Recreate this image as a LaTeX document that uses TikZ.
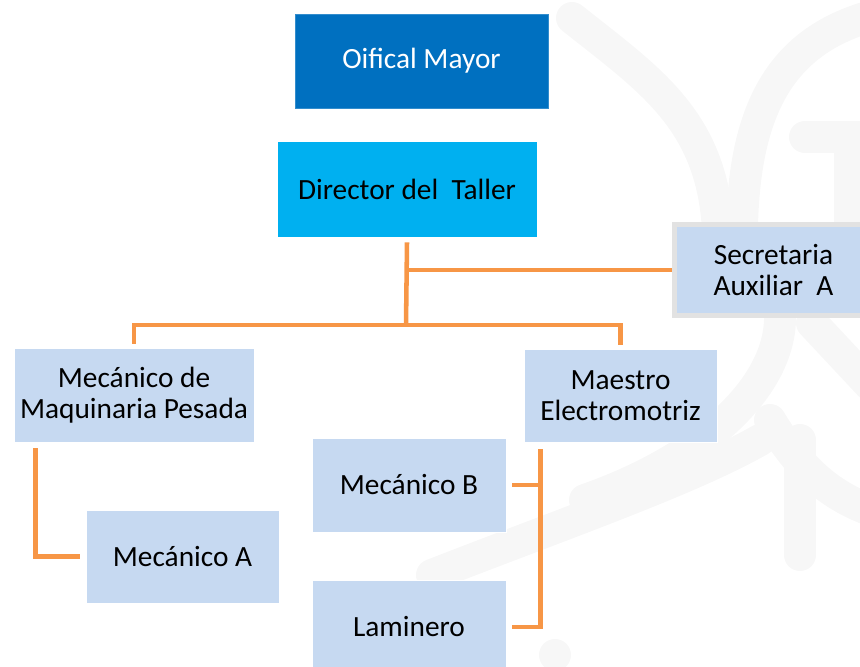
\documentclass[tikz,border=0pt]{standalone}
\usepackage{fontspec}
\setmainfont{Carlito}
\usetikzlibrary{backgrounds}
\definecolor{oblue}{HTML}{0070C0}
\definecolor{cblue}{HTML}{00B0F0}
\definecolor{lblue}{HTML}{C6D9F1}
\definecolor{conn}{HTML}{F79646}
\definecolor{wmark}{HTML}{F7F7F7}
\definecolor{secborder}{HTML}{E2E2E2}
\tikzset{
  orgbox/.style={fill=lblue, draw=white, line width=0.6pt, align=center, inner sep=0pt,
    font=\fontsize{22}{23}\selectfont, text=black},
  connline/.style={draw=conn, line width=3.4pt, line join=miter},
  wm/.style={draw=wmark, line width=24pt, line cap=round}
}
\begin{document}
\begin{tikzpicture}[x=0.75pt,y=-0.75pt]
\useasboundingbox (0,0) rectangle (860,667);
% faint watermark
\begin{scope}[on background layer]
  \draw[wm] (572,18) .. controls (650,80) and (712,120) .. (718,230);
  \draw[wm] (875,15) .. controls (780,40) and (745,110) .. (742,225);
  \draw[wm] (805,137) -- (870,137);
  \draw[wm] (850,137) -- (850,225);
  \draw[wm] (780,320) .. controls (778,390) and (700,460) .. (585,500);
  \draw[wm] (432,575) .. controls (560,525) and (690,480) .. (760,440);
  \draw[wm] (800,440) -- (800,555);
  \draw[wm] (770,420) .. controls (800,470) and (830,495) .. (870,510);
  \draw[wm] (812,323) -- (870,385);
  \fill[wmark] (555,655) circle[radius=16];
\end{scope}
% nodes
\node[orgbox, fill=oblue, draw=oblue!80!white, text=white, minimum width=189.75pt, minimum height=70.5pt] (om) at (421.5,61) {Oifical Mayor};
\node[orgbox, fill=cblue, draw=cblue, minimum width=193.5pt, minimum height=70.5pt] (dir) at (407,189) {Director del\ \ Taller};
\node[orgbox, draw=secborder, line width=3.75pt, minimum width=148.5pt, minimum height=68.25pt] (sec) at (773.5,270) {Secretaria\\Auxiliar\ \ A};
\node[orgbox, minimum width=180pt, minimum height=70.5pt] (mmp) at (134,395) {Mecánico de\\Maquinaria Pesada};
\node[orgbox, minimum width=144.75pt, minimum height=69.75pt] (me) at (620.5,395.5) {Maestro\\Electromotriz};
\node[orgbox, minimum width=145.5pt, minimum height=70.5pt] (mb) at (409,485) {Mecánico B};
\node[orgbox, minimum width=144.75pt, minimum height=69.75pt] (ma) at (182.5,556.5) {Mecánico A};
\node[orgbox, minimum width=145.5pt, minimum height=70.5pt] (lam) at (409,627) {Laminero};
\coordinate (j) at (406,325);
\coordinate (js) at (406,270);
% connectors
\begin{scope}[on background layer]
  \draw[connline] ([yshift=-4.5pt]dir.south) -- (j);
  \draw[connline] (js) -- (sec.west);
  \draw[connline] ([yshift=3pt]mmp.north) |- (j) -| ([yshift=3pt]me.north);
  \draw[connline] (mmp.south west) ++(22,6) |- ([xshift=-4.5pt]ma.west);
  \draw[connline] (me.south west) ++(17,7) |- ([xshift=4.5pt]lam.east);
  \draw[connline] ([xshift=4.5pt]mb.east) -- (541,485);
\end{scope}
\end{tikzpicture}
\end{document}
